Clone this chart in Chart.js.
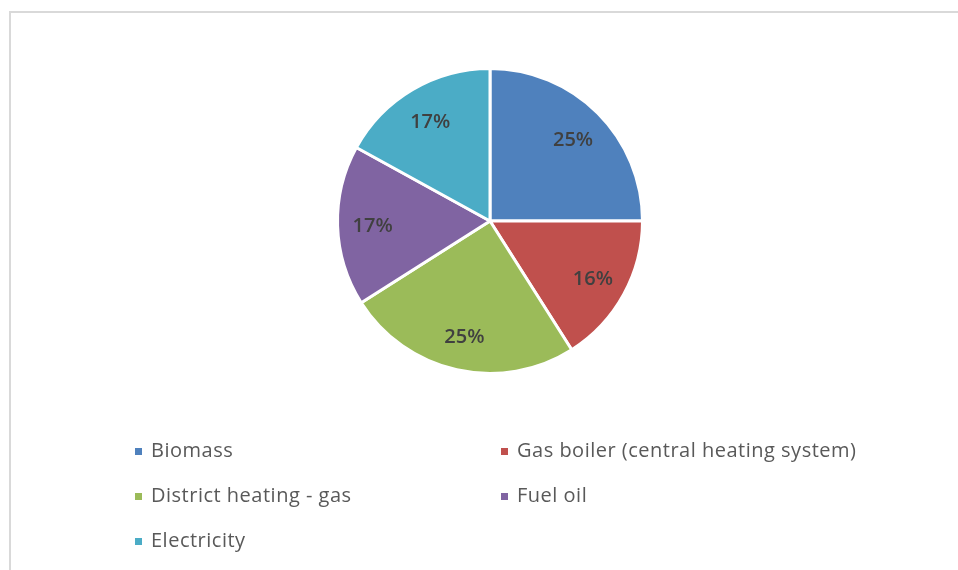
<!DOCTYPE html>
<html>
<head>
<meta charset="utf-8">
<script src="https://cdn.jsdelivr.net/npm/chart.js@4"></script>
<style>
  html, body { margin: 0; padding: 0; background: #fff; overflow: hidden; }
  #wrap { position: relative; width: 958px; height: 570px; }
</style>
</head>
<body>
<div id="wrap"><canvas id="heating-chart" width="958" height="570"></canvas></div>
<script>
    // heating sources and their share (%)
    const categories = ['Biomass', 'Gas boiler (central heating system)', 'District heating - gas', 'Fuel oil', 'Electricity'];
    const shares = [25, 16, 25, 17, 17];
    const colors = ['#4f81bd', '#c0504d', '#9bbb59', '#8064a2', '#4bacc6'];

    // outer frame, pinned to the top-left like a spreadsheet chart box
    const framePlugin = {
        id: 'frame',
        beforeDraw(chart) {
            let ctx = chart.ctx;
            ctx.save();
            ctx.strokeStyle = '#d9d9d9';
            ctx.lineWidth = 2;
            ctx.strokeRect(10, 12, 1000, 700);
            ctx.restore();
        }
    };

    // percentage labels inside each slice
    const sliceLabels = {
        id: 'sliceLabels',
        afterDatasetsDraw(chart) {
            let ctx = chart.ctx;
            let meta = chart.getDatasetMeta(0);
            ctx.save();
            ctx.font = '600 20px "Open Sans", sans-serif';
            ctx.fillStyle = '#404040';
            ctx.textAlign = 'center';
            ctx.textBaseline = 'middle';
            meta.data.forEach((arc, i) => {
                let p = arc.getProps(['x', 'y', 'startAngle', 'endAngle', 'outerRadius'], true);
                let mid = (p.startAngle + p.endAngle) / 2;
                let r = p.outerRadius * 0.77;
                ctx.fillText(shares[i] + '%', p.x + Math.cos(mid) * r, p.y + Math.sin(mid) * r + 2);
            });
            ctx.restore();
        }
    };

    // two-column legend under the pie
    const gridLegend = {
        id: 'gridLegend',
        afterDraw(chart) {
            let ctx = chart.ctx;
            let colX = [135, 501];
            let rowY = [451, 496, 541];
            ctx.save();
            ctx.font = '20px "Open Sans", sans-serif';
            ctx.letterSpacing = '0.5px';
            ctx.textBaseline = 'middle';
            categories.forEach((name, i) => {
                let x = colX[i % 2];
                let y = rowY[Math.floor(i / 2)];
                ctx.fillStyle = colors[i];
                ctx.fillRect(x, y - 3, 7, 7);
                ctx.fillStyle = '#595959';
                ctx.fillText(name, x + 16, y);
            });
            ctx.restore();
        }
    };

    let ctx = document.getElementById('heating-chart').getContext('2d');
    new Chart(ctx, {
        type: 'pie',
        data: {
            labels: categories,
            datasets: [{
                data: shares,
                backgroundColor: colors,
                borderColor: '#ffffff',
                borderWidth: 3
            }]
        },
        options: {
            responsive: false,
            animation: false,
            layout: {
                padding: { left: 336, right: 314, top: 66, bottom: 194 }
            },
            plugins: {
                legend: { display: false },
                tooltip: { enabled: false }
            }
        },
        plugins: [framePlugin, sliceLabels, gridLegend]
    });
</script>
</body>
</html>
